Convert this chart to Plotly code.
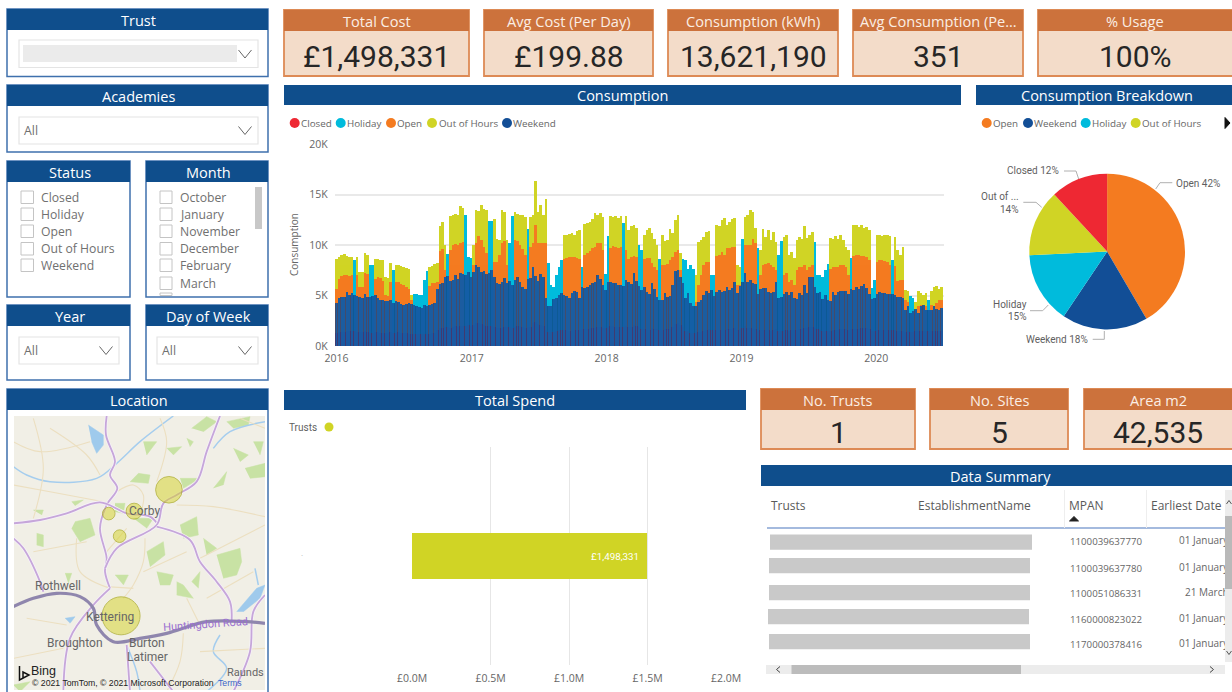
import pandas as pd
import plotly.graph_objects as go

W, H = 1232, 692
NAVY = "#0f4e8c"; EDGE = "#3f70ad"; ORANGE_H = "#cc723c"; PEACH = "#f3dcc9"; PEACH_E = "#dd8a55"
GREY = "#666666"; UI = "Open Sans"; NUM = "Roboto"

# ---- Consumption by week (cumulative height, thousands of kWh)
ooh_top = [
 8.6,8.8,9.0,9.1,8.9,8.8,8.8,8.5,8.8,7.3,
 7.3,9.2,9.0,8.0,8.0,8.6,8.6,8.5,8.5,6.8,
 6.7,8.2,7.5,8.0,8.0,7.9,7.8,7.7,7.6,5.0,
 5.1,5.1,5.0,5.0,6.5,7.4,7.8,7.9,8.1,8.2,
 11.9,12.3,10.0,9.1,12.9,13.0,13.1,13.0,13.9,13.7,
 13.0,8.8,8.7,10.0,13.5,13.4,14.0,13.6,13.5,12.4,
 12.4,12.6,10.6,10.5,13.5,13.3,10.5,10.2,12.9,13.3,
 13.1,13.0,13.0,12.8,11.6,12.8,13.0,16.3,13.3,14.0,
 13.0,14.5,8.2,6.0,5.8,7.0,7.8,8.5,11.0,11.0,
 11.1,11.2,11.0,11.4,11.5,7.8,12.1,12.2,12.3,12.6,
 13.2,13.0,13.2,12.8,7.1,10.9,12.9,12.8,12.9,12.7,
 12.9,12.2,12.9,11.5,11.9,12.0,11.7,10.0,9.5,11.0,
 11.5,11.7,11.2,10.6,10.0,8.6,11.0,10.4,10.5,11.6,
 11.2,12.5,13.0,9.2,8.6,8.5,7.6,8.0,7.6,7.0,
 10.3,10.5,10.8,11.3,11.4,7.0,7.0,12.0,11.9,12.5,
 12.7,12.0,12.3,12.6,12.7,8.0,7.8,10.6,12.8,13.0,
 13.5,13.3,11.7,9.7,9.5,11.6,10.8,11.5,10.5,11.3,
 10.3,9.0,10.4,10.8,11.0,9.0,9.3,8.7,10.5,10.8,
 10.6,11.9,10.7,11.0,11.3,10.3,7.0,7.0,6.8,7.5,
 8.1,10.7,10.6,10.9,10.6,11.0,10.5,9.8,9.5,8.7,
 12.0,12.0,11.8,12.0,11.7,11.8,11.5,5.7,6.5,11.0,
 11.0,10.9,11.0,11.0,10.9,8.5,10.8,9.5,9.0,9.8,
 5.5,5.4,4.9,4.7,4.3,5.4,5.2,5.0,5.2,4.5,
 5.4,5.8,5.9,5.6,5.8]
open_top = [
 5.6,6.6,6.9,7.0,7.0,6.9,7.0,7.0,7.0,5.8,
 5.8,7.2,7.1,6.9,6.8,6.6,6.8,6.7,6.4,5.0,
 4.9,6.3,6.2,6.3,6.3,6.1,6.0,5.8,5.6,4.5,
 4.2,4.1,4.0,4.0,4.3,5.5,5.9,6.2,6.2,6.3,
 9.4,9.6,7.5,8.5,9.5,10.0,10.1,10.0,10.2,10.3,
 10.0,7.5,7.5,8.0,10.2,10.9,10.5,9.8,9.2,9.0,
 8.0,8.3,8.3,9.0,10.2,10.4,8.0,7.9,9.5,10.5,
 10.4,10.0,9.6,9.0,8.5,9.8,10.2,12.0,10.2,10.2,
 10.2,10.2,6.0,5.0,5.0,5.0,5.5,6.0,8.6,8.7,
 8.8,8.8,8.8,8.7,8.6,6.0,9.0,9.2,9.4,9.7,
 9.8,10.2,10.2,9.5,6.0,7.0,9.7,9.9,9.8,9.7,
 9.8,8.8,9.5,8.6,8.8,8.9,8.8,7.0,6.5,8.6,
 8.7,8.7,8.2,7.8,7.5,6.5,8.0,8.0,8.1,8.5,
 8.8,9.3,9.5,7.5,5.5,5.0,5.0,5.0,5.0,4.3,
 6.0,7.0,8.0,8.3,8.3,5.5,5.5,8.9,9.0,9.3,
 9.0,9.7,9.7,9.8,9.8,6.0,6.0,8.5,10.0,10.0,
 10.0,10.6,10.2,8.5,7.0,8.0,8.1,8.2,8.0,7.8,
 7.5,7.0,8.0,7.0,7.2,6.3,6.5,6.0,7.5,7.8,
 7.8,8.0,7.5,7.8,8.0,7.5,5.8,5.5,5.2,5.5,
 5.5,7.6,7.8,7.8,7.8,8.0,8.0,7.8,7.0,6.5,
 8.9,9.0,9.0,8.9,8.9,8.8,8.5,5.0,5.0,8.3,
 8.5,8.5,8.4,8.3,8.0,6.5,7.9,6.4,6.5,6.5,
 4.5,4.3,4.0,3.8,3.5,3.9,4.0,3.9,3.9,4.0,
 4.0,3.9,4.2,4.5,4.5]
weekend_top = [
 4.2,4.7,4.8,4.8,5.3,5.0,5.2,5.0,4.9,4.8,
 4.7,5.1,4.8,4.8,4.9,5.0,4.7,4.5,4.5,4.4,
 4.4,4.5,4.2,4.4,4.3,4.1,4.0,4.1,4.2,4.1,
 4.0,3.9,3.8,3.7,4.0,3.9,4.0,4.1,4.2,5.6,
 6.1,6.2,6.8,6.9,6.4,6.5,7.0,6.6,7.2,7.1,
 7.0,7.3,6.8,7.3,8.0,7.8,7.3,7.4,7.1,7.2,
 7.5,6.8,6.2,6.1,6.3,6.7,6.2,6.4,6.0,6.5,
 6.8,6.3,5.8,5.6,6.6,6.7,7.8,6.9,6.4,7.1,
 6.8,4.7,3.9,3.9,4.6,4.7,5.0,5.2,5.0,4.9,
 4.7,5.2,5.4,5.3,4.7,5.8,5.7,5.8,6.0,6.2,
 6.3,7.0,6.6,6.0,5.5,6.3,6.3,6.2,6.2,6.0,
 6.0,5.9,6.5,6.3,6.1,7.2,6.4,5.9,5.5,5.8,
 5.3,5.1,6.2,5.6,4.8,4.5,4.5,5.2,4.8,4.9,
 6.0,7.4,7.5,6.8,6.2,4.7,5.2,4.2,3.9,3.9,
 4.3,4.5,5.0,5.4,5.2,5.5,4.9,5.3,5.5,5.3,
 5.4,5.8,5.5,5.7,6.3,5.2,5.9,6.3,7.2,6.3,
 6.5,6.2,6.1,5.1,5.6,5.7,5.7,5.3,5.2,5.3,
 6.3,4.7,4.8,5.1,5.3,5.0,5.3,4.7,4.6,5.2,
 5.0,6.0,5.2,6.8,6.8,5.8,5.2,5.3,4.6,5.0,
 4.5,4.4,5.3,5.0,5.3,5.4,5.4,5.4,5.1,5.6,
 5.5,5.8,5.6,5.9,6.1,5.7,5.1,4.6,4.7,5.1,
 5.3,5.2,5.2,5.1,5.1,5.1,5.0,4.8,4.8,4.7,
 3.5,3.9,3.2,3.4,3.6,3.2,3.9,4.0,3.5,3.5,
 3.5,3.9,3.6,3.5,3.7]
closed_top = [
 1.3,1.4,1.4,1.4,1.5,1.5,1.5,1.5,1.4,1.4,
 1.4,1.5,1.4,1.3,1.3,1.4,1.4,1.3,1.3,1.3,
 1.3,1.4,1.3,1.3,1.4,1.3,1.3,1.3,1.2,1.2,
 1.2,1.2,1.2,1.2,1.2,1.2,1.2,1.3,1.3,1.6,
 1.8,1.8,1.9,1.9,1.8,1.9,2.0,1.9,2.0,2.0,
 2.0,2.1,2.0,2.1,2.3,2.3,2.2,2.1,2.0,2.0,
 2.0,1.9,1.8,1.8,1.8,1.9,1.9,1.9,1.8,1.9,
 2.0,2.0,1.9,1.8,1.9,1.9,2.3,2.4,2.2,2.1,
 2.0,1.6,1.4,1.4,1.4,1.5,1.6,1.6,1.6,1.6,
 1.5,1.6,1.6,1.6,1.6,1.7,1.7,1.7,1.8,1.8,
 1.8,1.9,1.9,1.8,1.8,1.9,2.0,2.0,1.9,1.9,
 1.9,1.9,2.0,1.9,1.9,2.1,2.0,1.9,1.7,1.7,
 1.6,1.6,1.8,1.7,1.7,1.6,1.6,1.7,1.7,1.7,
 1.9,2.2,2.3,2.1,1.9,1.5,1.5,1.3,1.3,1.3,
 1.4,1.4,1.5,1.6,1.7,1.6,1.6,1.6,1.6,1.6,
 1.6,1.7,1.7,1.7,1.8,1.6,1.7,1.8,2.0,1.8,
 1.8,1.7,1.7,1.5,1.6,1.6,1.6,1.6,1.5,1.6,
 1.7,1.5,1.5,1.6,1.6,1.5,1.6,1.6,1.6,1.7,
 1.7,1.8,1.8,1.9,1.9,1.8,1.7,1.6,1.5,1.5,
 1.5,1.5,1.6,1.6,1.6,1.7,1.7,1.7,1.6,1.7,
 1.7,1.7,1.7,1.8,1.8,1.8,1.7,1.5,1.5,1.6,
 1.6,1.6,1.6,1.6,1.6,1.6,1.6,1.5,1.5,1.5,
 1.4,1.5,1.4,1.4,1.5,1.5,1.5,1.5,1.5,1.5,
 1.5,1.5,1.5,1.5,1.5]
holiday_weeks = [7,13,14,22,30,31,32,33,34,35,43,50,51,52,59,60,67,68,74,82,83,84,85,86,87,95,104,105,
                 111,117,118,125,134,135,136,137,138,145,146,157,163,171,172,185,186,187,188,189,190,
                 199,207,208,215,222,223,229]
year_ticks = ["2016", "2017", "2018", "2019", "2020"]
y_ticks = [0, 5000, 10000, 15000, 20000]
y_labels = ["0K", "5K", "10K", "15K", "20K"]

# ---- Breakdown pie
pie_labels = ["Open", "Weekend", "Holiday", "Out of Hours", "Closed"]
pie_values = [42, 18, 15, 14, 12]
pie_colors = ["#f47b20", "#124e96", "#00bbdc", "#d0d425", "#ee2833"]

# ---- Total spend
spend_value = [1498331]
spend_cat = ["Trust"]
spend_ticks = [0, 500000, 1000000, 1500000, 2000000]
spend_labels = ["£0.0M", "£0.5M", "£1.0M", "£1.5M", "£2.0M"]

# ---- Sites on the map
site_lon = [-0.657, -0.705, -0.740, -0.725, -0.723]
site_lat = [52.507, 52.489, 52.487, 52.468, 52.401]
site_size = [26.6, 16, 12.6, 12.6, 38]

# ---- Table
mpans = ["1100039637770", "1100039637780", "1100051086331", "1160000823022", "1170000378416"]
earliest = ["01 January", "01 January", "21 March", "01 January", "01 January"]

def X(p): return p / W
def Y(p): return 1 - p / H

shapes, notes = [], []

def rect(x0, y0, x1, y1, fill="rgba(0,0,0,0)", line=None, lw=1):
    shapes.append(dict(type="rect", xref="paper", yref="paper", x0=X(x0), x1=X(x1), y0=Y(y0), y1=Y(y1),
                       fillcolor=fill, line=dict(color=line or "rgba(0,0,0,0)", width=lw if line else 0), layer="below"))

def dot(cx, cy, r, fill):
    shapes.append(dict(type="circle", xref="paper", yref="paper", x0=X(cx - r), x1=X(cx + r), y0=Y(cy - r), y1=Y(cy + r),
                       fillcolor=fill, line=dict(width=0), layer="above"))

def poly(pts, color="#aaaaaa", lw=1, fill=None):
    p = "M" + " L".join(f"{X(a):.5f} {Y(b):.5f}" for a, b in pts)
    if fill:
        p += " Z"
    shapes.append(dict(type="path", xref="paper", yref="paper", path=p, fillcolor=fill or "rgba(0,0,0,0)",
                       line=dict(color=color, width=lw), layer="above"))

def text(px, py, t, size=12, color=GREY, anchor="center", font=UI, angle=0):
    notes.append(dict(xref="paper", yref="paper", x=X(px), y=Y(py), text=t, showarrow=False, xanchor=anchor,
                      yanchor="middle", textangle=angle, borderpad=0, borderwidth=0,
                      font=dict(family=font, size=size, color=color)))

def chevron(cx, cy, w=6.5, h=4, color="#666666"):
    poly([(cx - w, cy - h), (cx, cy + h), (cx + w, cy - h)], color, 1)

def slicer(x0, y0, x1, y1, hdr, title):
    rect(x0, y0, x1, y1, "white", EDGE, 1.5)
    rect(x0, y0, x1, hdr, NAVY)
    text((x0 + x1) / 2 + 1, (y0 + hdr) / 2 + 1, title, 14.5, "white")

def dropdown(x0, y0, x1, y1, label=None):
    rect(x0, y0, x1, y1, "white", "#e4e4e4", 1.2)
    if label:
        text(x0 + 5, (y0 + y1) / 2, label, 12.3, "#707070", "left")
    chevron(x1 - 13, (y0 + y1) / 2)

def kpi(x0, y0, x1, y1, hdr, title, value, size=30):
    rect(x0, y0, x1, y1, PEACH, PEACH_E, 1.8)
    rect(x0, y0, x1, hdr, ORANGE_H)
    text((x0 + min(x1, 1232)) / 2, (y0 + hdr) / 2 + .5, title, 14.6, "#fbeee4")
    text((x0 + min(x1, 1232)) / 2, (hdr + y1) / 2 + 3, value, size, "#262626", font=NUM)

def navy_bar(x0, y0, x1, y1, title, tx=None):
    rect(x0, y0, x1, y1, NAVY)
    text(tx or (x0 + x1) / 2, (y0 + y1) / 2 + .5, title, 14.5, "white")

# ---- Slicers
slicer(7, 9, 268, 76.5, 30, "Trust")
rect(19, 40, 258, 67.5, "white", "#e4e4e4", 1.2)
rect(23, 45, 237, 62, "#ebebeb")
chevron(245, 54)
slicer(7, 85, 268, 152, 106, "Academies")
dropdown(19, 117, 258, 144, "All")
slicer(7, 161, 130, 297, 182, "Status")
slicer(146, 161, 268, 297, 182, "Month")
rows_y = [197, 214, 231, 248.5, 265, 283]
for y, t in zip(rows_y, ["Closed", "Holiday", "Open", "Out of Hours", "Weekend"]):
    rect(21, y - 6, 33.5, y + 6.5, "white", "#c4c4c4", 1)
    text(41, y, t, 12.2, "#707070", "left")
for y, t in zip(rows_y, ["October", "January", "November", "December", "February", "March"]):
    rect(160, y - 6, 172, y + 6.5, "white", "#c4c4c4", 1)
    text(180, y, t, 12.2, "#707070", "left")
rect(160, 293, 172, 295.5, "white", "#c4c4c4", 1)
rect(255, 187, 262, 229, "#c8c8c8")
slicer(7, 305, 130, 380, 326, "Year")
slicer(146, 305, 268, 380, 326, "Day of Week")
dropdown(19, 337, 119, 364, "All")
dropdown(157, 337, 258, 364, "All")
slicer(7, 389, 268, 700, 410, "Location")

# ---- KPI cards
kpi(284, 10, 469, 76, 31, "Total Cost", "£1,498,331")
kpi(484, 10, 653, 76, 31, "Avg Cost (Per Day)", "£199.88")
kpi(668, 10, 838, 76, 31, "Consumption (kWh)", "13,621,190")
kpi(853, 10, 1023, 76, 31, "Avg Consumption (Pe...", "351")
kpi(1038, 10, 1240, 76, 31, "% Usage", "100%")
kpi(761, 389, 915, 449, 410, "No. Trusts", "1")
kpi(930, 389, 1068, 449, 410, "No. Sites", "5")
kpi(1084, 389, 1240, 449, 410, "Area m2", "42,535")

# ---- Section headers
navy_bar(284, 85, 961, 105, "Consumption")
navy_bar(976, 85, 1240, 105, "Consumption Breakdown", 1107)
navy_bar(284, 390, 746, 410, "Total Spend")
navy_bar(761, 465, 1240, 486, "Data Summary", 1000)

# ---- Consumption legend
for dx, tx, c, t in [(294.7, 301, "#ee2833", "Closed"), (340.7, 347, "#00bbdc", "Holiday"), (391, 397, "#f47b20", "Open"),
                     (432, 439, "#d0d425", "Out of Hours"), (507, 513, "#124e96", "Weekend")]:
    dot(dx, 123, 5, c)
    text(tx, 123, t, 9.8, GREY, "left")
text(294, 245, "Consumption", 10, GREY, angle=-90)

# ---- Pie legend and leader labels
for dx, tx, c, t in [(986.7, 993, "#f47b20", "Open"), (1028, 1034, "#124e96", "Weekend"),
                     (1085.7, 1092, "#00bbdc", "Holiday"), (1135.7, 1142, "#d0d425", "Out of Hours")]:
    dot(dx, 123, 5, c)
    text(tx, 123, t, 9.8, GREY, "left")
poly([(1225, 117.5), (1230, 123), (1225, 128.5)], "#111111", 1, "#111111")
for px, py, t, a in [(1059.3, 171, "Closed 12%", "right"), (1176, 183.3, "Open 42%", "left"),
                     (1019.3, 196.7, "Out of ...", "right"), (1019.3, 209.3, "14%", "right"),
                     (1026.7, 304, "Holiday", "right"), (1026.7, 316.7, "15%", "right"),
                     (1088.3, 339, "Weekend 18%", "right")]:
    text(px, py, t, 10, "#5f5f5f", a, font=NUM)
for pts in [[(1064, 171), (1076, 171), (1078.7, 179)], [(1172.3, 182.7), (1160, 182.7), (1155.7, 189)],
            [(1023.3, 202.3), (1036, 202.3), (1041.7, 207.3)], [(1030, 310.7), (1042.7, 310.7), (1048.3, 305)],
            [(1092.7, 339.3), (1104.3, 339.3), (1104.3, 331)]]:
    poly(pts, "#b0b0b0", 1)

# ---- Total spend legend and value label
text(289, 427, "Trusts", 10, "#5f5f5f", "left", font=NUM)
dot(329, 427, 4.5, "#d0d425")
text(302, 552, ".", 8, "#bbbbbb")
text(639, 556, "£1,498,331", 9.8, "white", "right", font=NUM)

# ---- Table furniture
for x, t in [(771, "Trusts"), (918, "EstablishmentName"), (1069, "MPAN"), (1151, "Earliest Date")]:
    text(x, 505, t, 12, "#5a5a5a", "left")
poly([(1069.5, 521), (1074, 516.5), (1078.5, 521)], "#222222", 1, "#222222")
poly([(767, 528), (1225, 528)], "#86a3d3", 1.5)
poly([(1064.5, 490), (1064.5, 528)], "#eeeeee", 1)
poly([(1146.5, 490), (1146.5, 528)], "#eeeeee", 1)
for x0, x1, y0 in [(770, 1032, 534.5), (769, 1030, 558), (769, 1030, 585), (768, 1029, 609), (769, 1030, 634)]:
    rect(x0, y0, x1, y0 + 15.3, "#c9c9c9")
for y, m in zip([541, 568, 593, 619, 644], mpans):
    text(1070, y, m, 9.7, "#666666", "left")
rect(1225, 490, 1232, 662, "#ececec")
rect(1225, 516, 1232, 589, "#b9b9b9")
rect(766, 665, 1225, 674, "#ececec")
rect(791.5, 665, 1021, 674, "#bcbcbc")
poly([(1226.5, 504), (1229, 500.5), (1231.5, 504)], "#555555", 1)
poly([(1226.5, 651), (1229, 654.5), (1231.5, 651)], "#555555", 1)
poly([(780, 666.5), (776.5, 669.5), (780, 672.5)], "#444444", 1)
poly([(1210, 666.5), (1213.5, 669.5), (1210, 672.5)], "#444444", 1)

# ---- Map labels
for px, py, t, s in [(58, 586, "Rothwell", 12), (110, 617, "Kettering", 12), (144, 511, "Corby", 12), (75, 643, "Broughton", 12),
                     (147, 643, "Burton", 12), (147, 657, "Latimer", 12), (245, 672, "Raunds", 11)]:
    text(px, py, t, s, "#666666", font=NUM)
text(205, 624, "Huntingdon Road", 11, "#9a6fd0", font=NUM, angle=-4)
text(31, 671, "Bing", 12.5, "#222222", "left", font="Liberation Sans")
poly([(19.5, 666), (19.5, 680), (29, 675), (23, 672), (23, 678)], "#111111", 1.5)
text(32, 683, "© 2021 TomTom, © 2021 Microsoft Corporation", 8.7, "#222222", "left", font="Liberation Sans")
text(218, 683, "Terms", 8.7, "#3a66c8", "left", font="Liberation Sans")

fig = go.Figure()

# ---- Consumption columns
weeks = pd.date_range("2015-12-31", periods=len(ooh_top), freq="7D")
WEEK = 7 * 24 * 3600 * 1000
def ks(v): return [a * 1000 for a in v]
holiday_top = [ooh_top[i] if i in holiday_weeks else 0 for i in range(len(ooh_top))]
for name, vals, col, wd, op in [("Out of Hours", ooh_top, "#d0d425", 1, 1), ("Open", open_top, "#f47b20", 1, 1),
                                ("Holiday", holiday_top, "#00bbdc", 1, 1), ("Closed", closed_top, "#e8303a", 1, 1),
                                ("Weekend", weekend_top, "#123f80", 1, .78), ("Weekend", weekend_top, "#1560aa", .36, .85)]:
    fig.add_trace(go.Bar(x=weeks, y=ks(vals), name=name, width=WEEK * wd, opacity=op, marker=dict(color=col, line=dict(width=0)),
                         xaxis="x", yaxis="y", showlegend=False))

# ---- Pie
fig.add_trace(go.Pie(labels=pie_labels, values=pie_values, sort=False, direction="clockwise", rotation=0,
                     marker=dict(colors=pie_colors, line=dict(width=0)), textinfo="none", showlegend=False,
                     domain=dict(x=[X(1029.3), X(1185)], y=[Y(329.5), Y(173.7)])))

# ---- Spend bar
fig.add_trace(go.Bar(x=spend_value, y=spend_cat, orientation="h", width=.21, marker=dict(color="#d0d425", line=dict(width=0)),
                     xaxis="x2", yaxis="y2", showlegend=False))

# ---- Map background: geography in crop units (3x crop of the panel)
def lon(zx): return -0.69 + (zx / 3 - 145) / 725
def lat(zy): return 52.49 - (385 + zy / 3 - 510) / 1189
def mline(pts, col, w):
    fig.add_trace(go.Scatter(x=[lon(a) for a, b in pts], y=[lat(b) for a, b in pts], mode="lines", line=dict(color=col, width=w, shape="spline"),
                             hoverinfo="skip", showlegend=False, xaxis="x3", yaxis="y3"))
def mfill(pts, col):
    fig.add_trace(go.Scatter(x=[lon(a) for a, b in pts], y=[lat(b) for a, b in pts], mode="lines", fill="toself", fillcolor=col,
                             line=dict(color=col, width=0.5), hoverinfo="skip", showlegend=False, xaxis="x3", yaxis="y3"))

greens = [[(575,130),(620,95),(650,110),(610,140)], [(680,110),(750,95),(745,120),(700,130)], [(415,265),(450,270),(445,295),(390,290)],
          [(225,410),(270,400),(285,450),(240,470),(215,430)], [(110,445),(130,450),(130,485),(110,480)], [(440,500),(490,470),(495,510),(450,545)],
          [(470,560),(520,570),(510,600),(480,600)], [(530,590),(550,600),(580,640),(530,630)], [(540,420),(590,395),(595,450),(550,460)],
          [(610,460),(650,490),(620,510)], [(650,510),(720,490),(725,530),(710,570),(670,580)], [(735,250),(795,235),(795,275),(750,280)],
          [(640,310),(680,260),(670,300)], [(500,190),(545,185),(520,210)], [(430,170),(470,170),(440,210)], [(760,170),(790,170),(780,210)],
          [(345,570),(385,570),(370,600)], [(100,375),(130,375),(125,390)], [(575,590),(600,560),(595,610)], [(400,400),(460,400),(440,430)],
          [(560,160),(580,170),(570,185)], [(540,280),(600,280),(550,310)], [(700,190),(745,210),(720,230)], [(195,565),(215,565),(205,595)],
          [(345,355),(375,355),(370,385),(345,380)], [(215,350),(250,345),(225,362)], [(40,900),(90,890),(60,920)]]
for g in greens:
    mfill(g, "#c8e2a4")
for g in [[(265,120),(310,150),(310,180),(290,205),(275,170)], [(710,680),(770,610),(795,600),(780,640),(730,680)], [(195,700),(225,695),(210,715)]]:
    mfill(g, "#9fcaec")
for r in [[(40,245),(80,270),(150,290),(290,280),(350,235),(420,170),(520,93)], [(640,190),(690,140),(795,110)],
          [(660,750),(640,800),(680,850),(620,920)], [(380,780),(410,860),(420,920)], [(765,550),(775,600)]]:
    mline(r, "#a5cdee", 1.5)
for r in [[(350,320),(400,300),(430,330),(420,390)], [(320,500),(380,430)], [(435,460),(430,530),(400,600),(370,640)],
          [(530,360),(640,365),(795,395)], [(550,745),(540,830),(500,920)], [(100,100),(130,250),(100,400)], [(320,605),(400,610)],
          [(40,300),(150,320),(310,350)], [(230,460),(240,560),(330,610)], [(480,100),(500,170),(470,290)], [(600,520),(795,420)],
          [(40,820),(190,790)], [(720,100),(795,130)], [(100,500),(260,470)], [(150,130),(260,210),(300,270)], [(560,640),(600,720)],
          [(40,170),(120,200),(270,170)], [(430,560),(560,500)], [(620,640),(760,560)], [(600,800),(795,790)], [(80,700),(200,720)]]:
    mline(r, "#ecdfc0", 1.1)
for r in [[(320,93),(318,150),(345,230),(330,270),(352,310),(320,360),(300,430),(320,520),(315,560),(330,610)],
          [(40,415),(120,405),(200,385),(300,352),(380,385),(450,395),(475,420)],
          [(660,93),(620,200),(590,290),(530,330),(490,355),(470,420),(350,490),(315,550)],
          [(470,425),(570,465),(600,530),(650,590),(690,650),(695,710)], [(40,460),(70,490),(120,590),(130,620)],
          [(330,610),(280,660),(210,760),(190,920)], [(795,630),(760,680),(750,800),(700,920)], [(380,780),(390,920)], [(450,830),(520,920)]]:
    mline(r, "#f6f2f8", 3.4)
    mline(r, "#c6a6da", 1.8)
mline([(40,665),(100,640),(170,625),(240,635),(280,670),(290,720),(340,770),(420,760),(500,745),(620,710),(740,710),(795,715)], "#8f86ad", 3.2)

# ---- Site bubbles
fig.add_trace(go.Scatter(x=site_lon, y=site_lat, mode="markers", showlegend=False, xaxis="x3", yaxis="y3",
                         marker=dict(size=site_size, color="rgba(212,210,40,0.72)", line=dict(color="#a8a81e", width=1))))

# ---- Clipped date column
date_x = [1179 if e.startswith("01") else 1185 for e in earliest]
fig.add_trace(go.Scatter(x=date_x, y=[541, 568, 593, 619, 644], text=earliest, mode="text", textposition="middle right",
                         textfont=dict(family=UI, size=10, color="#666666"), xaxis="x4", yaxis="y4", showlegend=False, hoverinfo="skip"))

tick_font = dict(family=UI, size=10.5, color=GREY)
fig.update_layout(
    width=W, height=H, margin=dict(l=0, r=0, t=0, b=0, autoexpand=False), paper_bgcolor="white", plot_bgcolor="rgba(0,0,0,0)",
    barmode="overlay", bargap=0, autosize=False, annotations=notes,
    xaxis=dict(domain=[X(334.7), X(944.3)], type="date", range=["2015-12-27", "2020-07-03"], tickvals=[y + "-01-01" for y in year_ticks],
               ticktext=year_ticks, showgrid=False, zeroline=False, showline=False, ticks="", tickfont=tick_font, anchor="y", ticklabelstandoff=4),
    yaxis=dict(domain=[Y(346), Y(144.3)], range=[0, 20000], tickvals=y_ticks, ticktext=y_labels, gridcolor="#e9e9e9", gridwidth=1.5,
               zeroline=False, showline=False, ticks="", tickfont=tick_font, anchor="x", ticklabelstandoff=6),
    xaxis2=dict(domain=[X(412), X(726)], range=[0, 2000000], tickvals=spend_ticks, ticktext=spend_labels, gridcolor="#e6e6e6", gridwidth=1.2,
                zeroline=False, showline=False, ticks="", tickfont=tick_font, anchor="y2", ticklabelstandoff=5),
    yaxis2=dict(domain=[Y(665), Y(447)], range=[-.5, .5], showticklabels=False, showgrid=False, zeroline=False, anchor="x2"),
    xaxis3=dict(domain=[X(14), X(265)], range=[lon(42), lon(795)], visible=False, anchor="y3"),
    yaxis3=dict(domain=[Y(690), Y(416)], range=[lat(915), lat(93)], visible=False, anchor="x3"),
    xaxis4=dict(domain=[X(1150), X(1225)], range=[1150, 1225], visible=False, anchor="y4"),
    yaxis4=dict(domain=[Y(655), Y(530)], range=[655, 530], visible=False, anchor="x4"),
)
rect(14, 416, 265, 690, "#f1efe6")
fig.update_layout(shapes=shapes)
fig.write_html("out.html", config={"displayModeBar": False},
               post_script="document.body.style.margin='0';document.body.style.overflow='hidden';")
